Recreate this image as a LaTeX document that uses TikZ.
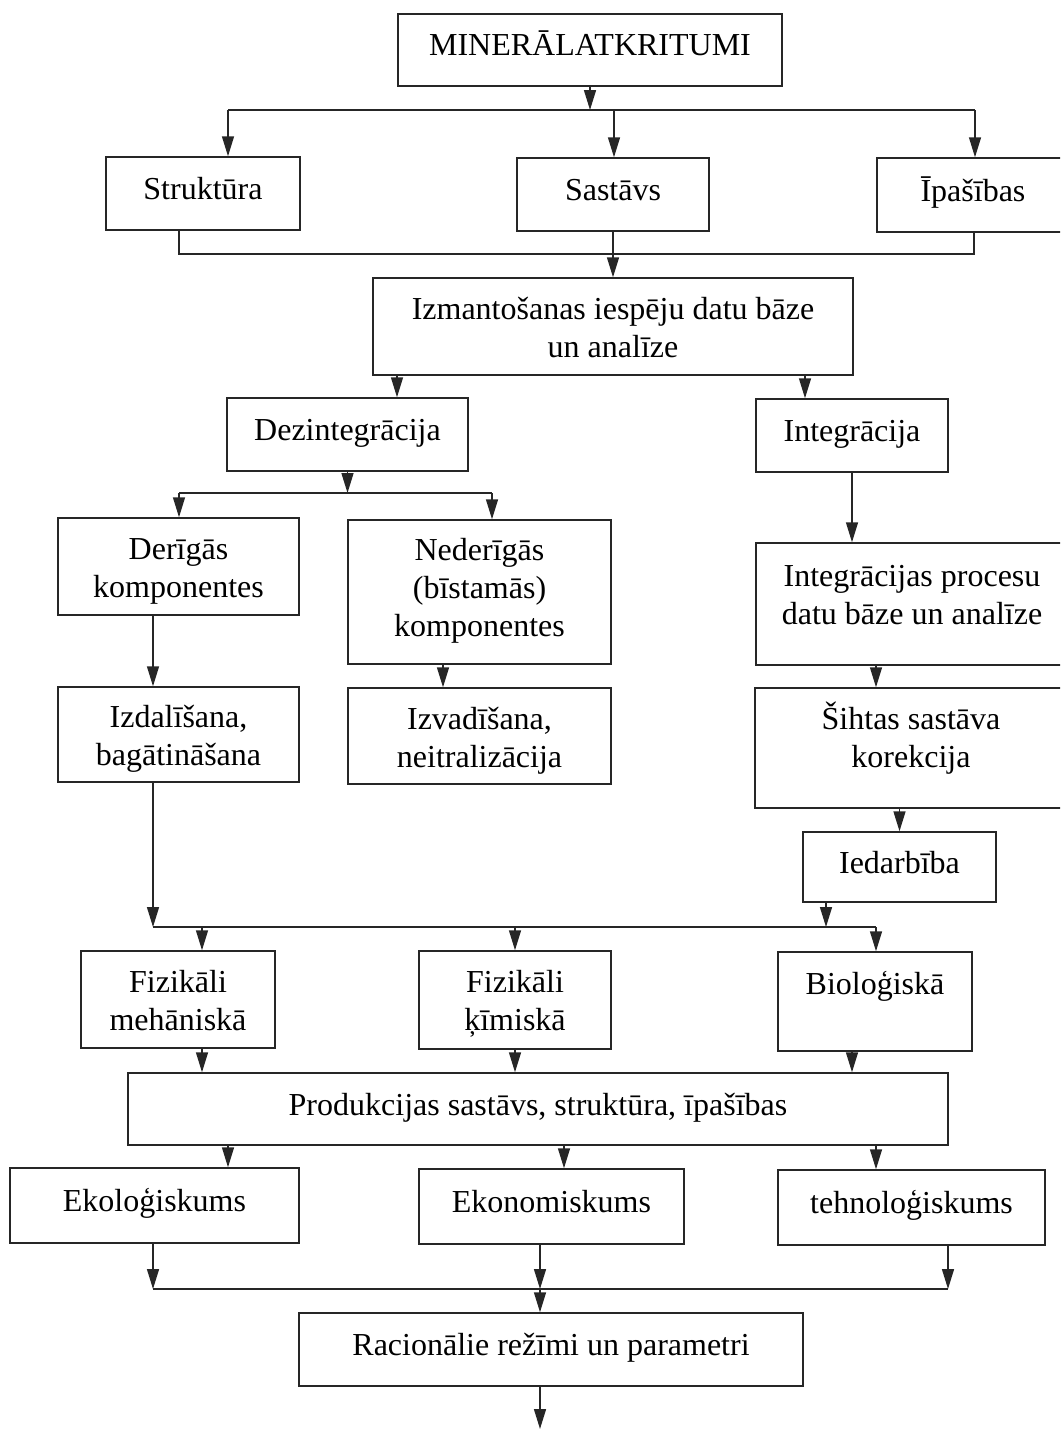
\documentclass[tikz,border=0pt]{standalone}
\usepackage{fontspec}
\setmainfont{Liberation Serif}
\usetikzlibrary{arrows.meta}
\usetikzlibrary{positioning}

\begin{document}
\begin{tikzpicture}[x=1pt, y=-1pt, line width=1.5pt, draw=black!85,
  blok/.style={draw, rectangle, inner sep=0pt, align=center, text height=22pt, text depth=10pt, font=\fontsize{32}{38}\selectfont},
  divi/.style={text height=#1, text depth=0pt},
  bulta/.style={-{Triangle[length=20pt,width=12pt]}}]
\useasboundingbox (0,0) rectangle (1060,1429);
\clip (0,0) rectangle (1060,1429);

\node[blok, minimum width=384pt, minimum height=72pt] (MIN) at (590,50) {MINERĀLATKRITUMI};
\node[blok, minimum width=194pt, minimum height=73pt] (STR) at (203,193.5) {Struktūra};
\node[blok, minimum width=192pt, minimum height=73pt] (SAS) at (613,194.5) {Sastāvs};
\node[blok, minimum width=192pt, minimum height=74pt] (IPA) at (973,195) {Īpašības};
\node[blok, divi=61pt, minimum width=480pt, minimum height=97pt] (IZM) at (613,326.5) {Izmantošanas iespēju datu bāze\\un analīze};
\node[blok, minimum width=241pt, minimum height=73pt] (DEZ) at (347.5,434.5) {Dezintegrācija};
\node[blok, minimum width=192pt, minimum height=73pt] (INT) at (852,435.5) {Integrācija};
\node[blok, divi=62pt, minimum width=241pt, minimum height=97pt] (DER) at (178.5,566.5) {Derīgās\\komponentes};
\node[blok, divi=88pt, minimum width=263pt, minimum height=144pt] (NED) at (479.5,592) {Nederīgās\\(bīstamās)\\komponentes};
\node[blok, divi=41pt, minimum width=312pt, minimum height=122pt] (IPR) at (912,604) {Integrācijas procesu\\datu bāze un analīze};
\node[blok, divi=62pt, minimum width=241pt, minimum height=95pt] (IZD) at (178.5,734.5) {Izdalīšana,\\bagātināšana};
\node[blok, divi=62pt, minimum width=263pt, minimum height=96pt] (IZV) at (479.5,736) {Izvadīšana,\\neitralizācija};
\node[blok, divi=38pt, minimum width=312pt, minimum height=120pt] (SIH) at (911,748) {Šihtas sastāva\\korekcija};
\node[blok, minimum width=193pt, minimum height=70pt] (IED) at (899.5,867) {Iedarbība};
\node[blok, divi=61pt, minimum width=194pt, minimum height=97pt] (FME) at (178,999.5) {Fizikāli\\mehāniskā};
\node[blok, divi=60pt, minimum width=192pt, minimum height=98pt] (FKI) at (515,1000) {Fizikāli\\ķīmiskā};
\node[blok, minimum width=194pt, minimum height=99pt, text depth=37pt] (BIO) at (875,1001.5) {Bioloģiskā};
\node[blok, minimum width=820pt, minimum height=72pt] (PRO) at (538,1109) {Produkcijas sastāvs, struktūra, īpašības};
\node[blok, minimum width=289pt, minimum height=75pt] (EKO) at (154.5,1205.5) {Ekoloģiskums};
\node[blok, minimum width=265pt, minimum height=75pt] (EKN) at (551.5,1206.5) {Ekonomiskums};
\node[blok, minimum width=267pt, minimum height=75pt] (TEH) at (911.5,1207.5) {tehnoloģiskums};
\node[blok, minimum width=504pt, minimum height=73pt] (RAC) at (551,1349.5) {Racionālie režīmi un parametri};

% sadalījums zem MINERĀLATKRITUMI
\coordinate (t1) at (228,110);
\coordinate (t2) at (614,110);
\coordinate (t3) at (975,110);
\draw[bulta] (MIN.south) -- (MIN.south |- t1);
\draw (t1) -- (t3);
\draw[bulta] (t1) -- (t1 |- STR.north);
\draw[bulta] (t2) -- (t2 |- SAS.north);
\draw[bulta] (t3) -- (t3 |- IPA.north);

\coordinate (b1) at (179,254);
\coordinate (b3) at (974,254);
\draw (b1 |- STR.south) -- (b1) -- (b3) -- (b3 |- IPA.south);
\draw[bulta] (SAS.south) -- (IZM.north);

\coordinate (xa) at (397,0);
\coordinate (xb) at (805,0);
\draw[bulta] (xa |- IZM.south) -- (xa |- DEZ.north);
\draw[bulta] (xb |- IZM.south) -- (xb |- INT.north);

% dezintegrācija
\coordinate (k1) at (179,493);
\coordinate (k2) at (492,493);
\draw[bulta] (DEZ.south) -- (DEZ.south |- k1);
\draw (k1) -- (k2);
\draw[bulta] (k1) -- (k1 |- DER.north);
\draw[bulta] (k2) -- (k2 |- NED.north);
\draw[bulta] (INT.south) -- (INT.south |- IPR.north);

\coordinate (xc) at (153,0);
\coordinate (xd) at (443,0);
\coordinate (xe) at (876,0);
\draw[bulta] (xc |- DER.south) -- (xc |- IZD.north);
\draw[bulta] (xd |- NED.south) -- (xd |- IZV.north);
\draw[bulta] (xe |- IPR.south) -- (xe |- SIH.north);
\draw[bulta] (SIH.south -| IED.north) -- (IED.north);

% apstrādes veidi
\coordinate (m1) at (153,927);
\coordinate (m2) at (876,927);
\coordinate (m3) at (826,927);
\draw[bulta] (xc |- IZD.south) -- (m1);
\draw (m1) -- (m2);
\draw[bulta] (m3 |- IED.south) -- (m3);
\coordinate (f1) at (202,927);
\coordinate (f2) at (515,927);
\draw[bulta] (f1) -- (f1 |- FME.north);
\draw[bulta] (f2) -- (f2 |- FKI.north);
\draw[bulta] (m2) -- (m2 |- BIO.north);

\coordinate (xf) at (852,0);
\draw[bulta] (f1 |- FME.south) -- (f1 |- PRO.north);
\draw[bulta] (f2 |- FKI.south) -- (f2 |- PRO.north);
\draw[bulta] (xf |- BIO.south) -- (xf |- PRO.north);

\coordinate (xg) at (228,0);
\coordinate (xh) at (564,0);
\draw[bulta] (xg |- PRO.south) -- (xg |- EKO.north);
\draw[bulta] (xh |- PRO.south) -- (xh |- EKN.north);
\draw[bulta] (xe |- PRO.south) -- (xe |- TEH.north);

% kopsavilkums
\coordinate (r1) at (153,1289);
\coordinate (r2) at (540,1289);
\coordinate (r3) at (948,1289);
\coordinate (beigas) at (540,1429);
\draw[bulta] (r1 |- EKO.south) -- (r1);
\draw[bulta] (r2 |- EKN.south) -- (r2);
\draw[bulta] (r3 |- TEH.south) -- (r3);
\draw (r1) -- (r3);
\draw[bulta] (r2) -- (r2 |- RAC.north);
\draw[bulta] (r2 |- RAC.south) -- (beigas);
\end{tikzpicture}
\end{document}
